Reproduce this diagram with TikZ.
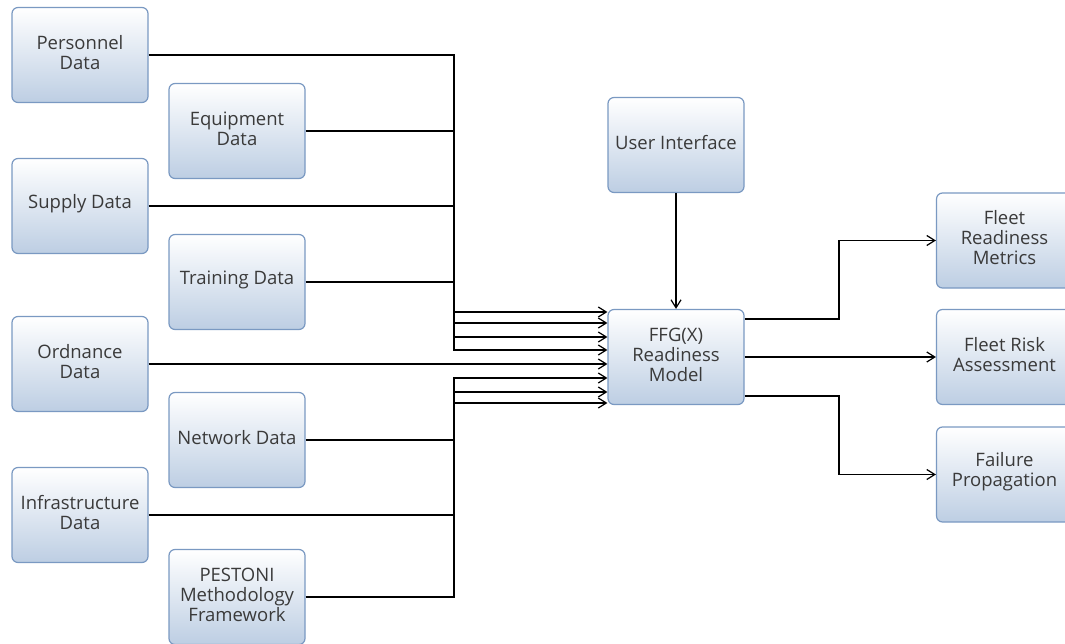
\documentclass[tikz,border=0pt]{standalone}
\usepackage{fontspec}
\setmainfont{Open Sans}
\usetikzlibrary{arrows.meta}
\definecolor{boxline}{RGB}{122,153,194}
\definecolor{boxbot}{RGB}{189,206,227}
\definecolor{boxmid}{RGB}{232,239,247}
\definecolor{boxtext}{RGB}{58,58,58}
% a rounded box with its caption set a little above the centre
\newcommand\databoxat[3]{%
  \node[databox] (#1) at (#2) {};
  \node[boxcaption] (#1-t) at ([yshift=2.5pt]#1.center) {#3};}
\begin{document}
\begin{tikzpicture}[x=1pt,y=-1pt,
  databox/.style={rectangle, rounded corners=6pt, draw=boxline, line width=1.2pt,
    top color=white, middle color=boxmid, bottom color=boxbot,
    minimum width=136pt, minimum height=95pt},
  boxcaption/.style={align=center, text=boxtext, inner sep=0pt,
    font=\fontsize{18.5}{20}\selectfont},
  link/.style={draw=black, line width=1.8pt,
    -{Straight Barb[length=8pt,width=10pt,line width=1.2pt]}}]
\useasboundingbox (0,0) rectangle (1065,644);
\clip (0,0) rectangle (1065,644);

% input sources, two staggered columns
\databoxat{pers}{80,55}{Personnel\\Data}
\databoxat{equip}{237,131}{Equipment\\Data}
\databoxat{supply}{80,206}{Supply Data}
\databoxat{train}{237,282}{Training Data}
\databoxat{ord}{80,364}{Ordnance\\Data}
\databoxat{net}{237,440}{Network Data}
\databoxat{infra}{80,515}{Infrastructure\\Data}
\databoxat{pest}{237,597}{PESTONI\\Methodology\\Framework}

% model and interface
\databoxat{ui}{676,145}{User Interface}
\databoxat{ffg}{676,357}{FFG(X)\\Readiness\\Model}

% outputs
\databoxat{frm}{1004.5,240.5}{Fleet\\Readiness\\Metrics}
\databoxat{risk}{1004.5,357}{Fleet Risk\\Assessment}
\databoxat{fail}{1004.5,474.5}{Failure\\Propagation}

% shared collector bus
\coordinate (bus) at (454,0);

\draw[link] (pers.east)   -| (bus |- 0,312) -- (ffg.west |- 0,312);
\draw[link] (equip.east)  -| (bus |- 0,323) -- (ffg.west |- 0,323);
\draw[link] (supply.east) -| (bus |- 0,337) -- (ffg.west |- 0,337);
\draw[link] (train.east)  -| (bus |- 0,350) -- (ffg.west |- 0,350);
\draw[link] (ord.east) -- (ffg.west |- ord.east);
\draw[link] (net.east)    -| (bus |- 0,378) -- (ffg.west |- 0,378);
\draw[link] (infra.east)  -| (bus |- 0,392) -- (ffg.west |- 0,392);
\draw[link] (pest.east)   -| (bus |- 0,403) -- (ffg.west |- 0,403);

\draw[link] (ui.south) -- (ffg.north);

\draw[link] (ffg.east |- 0,319) -| (839,240.5) -- (frm.west);
\draw[link] (ffg.east) -- (risk.west);
\draw[link] (ffg.east |- 0,396) -| (839,474.5) -- (fail.west);
\end{tikzpicture}
\end{document}
